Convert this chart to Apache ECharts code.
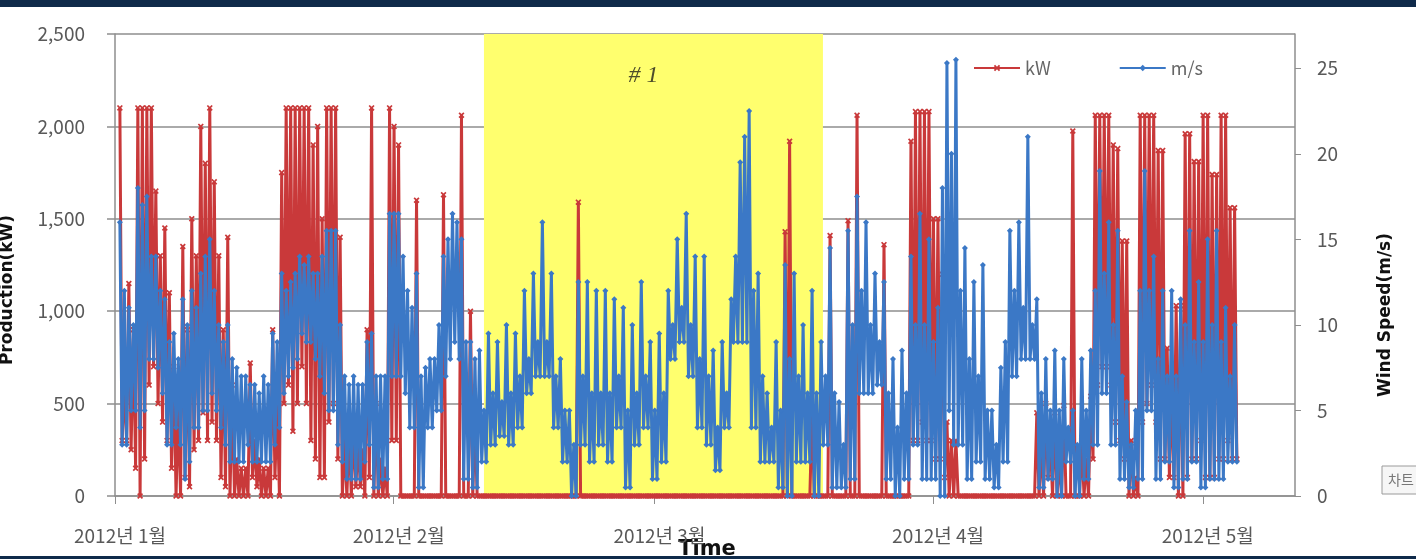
<!DOCTYPE html>
<html>
<head>
<meta charset="utf-8">
<script src="https://cdn.jsdelivr.net/npm/echarts@6/dist/echarts.min.js"></script>
<style>
  html, body { margin: 0; padding: 0; background: #fff; }
  #chart { width: 1416px; height: 559px; }
</style>
</head>
<body>
<div id="chart"></div>
<script>
// half-day slots from 1 Jan 2012 13:00; for each slot the top and the bottom of the band
const HOUR = 3600000
const DAY = 24 * HOUR
const startTime = Date.UTC(2012, 0, 1, 13)
const slotHours = 12

// Production (kW), left axis
const kwUpper = [
  2100, 600, 1150, 900, 2100, 2100, 2100, 2100, 1650, 1300,
  1450, 1100, 700, 500, 1350, 900, 1500, 1300, 2000, 1800,
  2100, 1700, 1300, 900, 1400, 600, 200, 150, 150, 720,
  300, 200, 150, 150, 900, 500, 1750, 2100, 2100, 2100,
  2100, 2100, 2100, 1900, 2000, 1500, 2100, 2100, 2100, 1400,
  300, 350, 400, 300, 250, 900, 2100, 500, 200, 150,
  2100, 2000, 1900, 0, 0, 0, 1600, 0, 0, 0,
  0, 0, 1630, 0, 0, 0, 2060, 0, 1000, 400,
  0, 0, 0, 0, 0, 0, 0, 0, 0, 0,
  0, 0, 0, 0, 0, 0, 0, 0, 0, 0,
  0, 0, 1590, 0, 0, 0, 0, 0, 0, 0,
  0, 0, 0, 0, 0, 0, 0, 0, 0, 0,
  0, 0, 0, 0, 0, 0, 0, 0, 0, 0,
  0, 0, 0, 0, 0, 0, 0, 0, 0, 0,
  0, 0, 0, 0, 0, 0, 0, 0, 1430, 1920,
  0, 0, 0, 0, 450, 0, 0, 0, 1410, 0,
  0, 0, 1490, 0, 2060, 0, 0, 0, 0, 0,
  1360, 0, 0, 0, 0, 0, 1920, 2080, 2080, 2080,
  2080, 1500, 1500, 1200, 400, 300, 300, 0, 0, 0,
  0, 0, 0, 0, 0, 0, 0, 0, 0, 0,
  0, 0, 0, 0, 450, 300, 500, 300, 450, 200,
  490, 0, 1975, 0, 300, 200, 540, 2060, 2060, 2060,
  2060, 1900, 1880, 1380, 1380, 300, 100, 2060, 2060, 2060,
  2060, 1870, 1870, 800, 600, 1030, 1030, 1960, 1960, 1810,
  1810, 2060, 2060, 1740, 1740, 2060, 2060, 1560, 1560
]
const kwLower = [
  300, 300, 250, 150, 0, 200, 600, 700, 500, 400,
  300, 150, 0, 0, 100, 50, 250, 300, 450, 300,
  400, 300, 100, 50, 0, 0, 0, 0, 0, 100,
  50, 0, 0, 0, 100, 0, 500, 600, 350, 500,
  700, 500, 300, 200, 100, 100, 400, 500, 200, 0,
  0, 0, 50, 50, 0, 100, 0, 0, 0, 0,
  300, 300, 0, 0, 0, 0, 0, 0, 0, 0,
  0, 0, 0, 0, 0, 0, 0, 0, 0, 0,
  0, 0, 0, 0, 0, 0, 0, 0, 0, 0,
  0, 0, 0, 0, 0, 0, 0, 0, 0, 0,
  0, 0, 0, 0, 0, 0, 0, 0, 0, 0,
  0, 0, 0, 0, 0, 0, 0, 0, 0, 0,
  0, 0, 0, 0, 0, 0, 0, 0, 0, 0,
  0, 0, 0, 0, 0, 0, 0, 0, 0, 0,
  0, 0, 0, 0, 0, 0, 0, 0, 0, 0,
  0, 0, 0, 0, 0, 0, 0, 0, 0, 0,
  0, 0, 0, 0, 0, 0, 0, 0, 0, 0,
  0, 0, 0, 0, 0, 0, 300, 300, 400, 300,
  300, 200, 200, 100, 0, 0, 0, 0, 0, 0,
  0, 0, 0, 0, 0, 0, 0, 0, 0, 0,
  0, 0, 0, 0, 0, 0, 100, 0, 0, 0,
  0, 0, 0, 0, 0, 0, 200, 600, 700, 700,
  600, 400, 300, 200, 0, 0, 0, 400, 500, 600,
  400, 200, 200, 100, 100, 0, 0, 100, 200, 200,
  300, 100, 100, 100, 200, 200, 300, 200, 200
]

// Wind speed (m/s), right axis
const windUpper = [
  16, 12, 11, 10, 18, 17, 17.5, 14, 14, 12,
  11.5, 9, 9.5, 8, 11.5, 10, 12, 11, 13, 14,
  15, 12, 10, 9, 10, 8, 7.5, 7, 7, 6.5,
  6.5, 6, 7, 6.5, 9.5, 9, 13, 12, 12.5, 13,
  14, 13.5, 14, 13, 13, 14, 15.5, 15.5, 15.5, 10,
  7, 6.5, 7, 6.5, 6.5, 9, 9.5, 7, 7, 7,
  16.5, 16.5, 16.5, 14, 12, 11, 13, 7, 7.5, 8,
  8, 10, 14, 15, 16.5, 16, 15, 9, 9, 8,
  8.5, 5, 9.5, 6, 9, 5.5, 10, 6, 9.5, 7,
  12, 8, 13, 9, 16, 9, 13, 7, 8, 5,
  5, 3, 12.5, 7, 12.5, 6, 12, 6, 12, 6,
  11.5, 7, 11, 5, 10, 6, 12.5, 7, 9, 5,
  9.5, 6, 12, 10, 15, 11, 16.5, 10, 14, 8,
  14, 7, 8.5, 4, 9, 6, 11.5, 14, 19.5, 21,
  22.5, 12, 13, 7, 6, 4, 9, 5, 13.5, 8,
  13, 7, 10, 6, 12, 6, 9, 7, 14.5, 6,
  5.5, 3, 15.5, 10, 17.5, 12, 16, 10, 13, 9,
  12.5, 6, 8, 4, 8.5, 6, 14, 10, 16.5, 10,
  15, 9, 11, 18, 25.3, 20, 25.5, 12, 14.5, 8,
  12.5, 7, 13.5, 5, 5, 3, 7.5, 9, 15.5, 12,
  16, 11, 21, 10, 11.5, 6, 8, 5, 8.5, 5,
  8, 4, 5, 3, 8, 5, 8.5, 12, 19, 13,
  16, 10, 15.5, 7, 5.5, 3, 5, 12, 19, 12,
  14, 8, 12, 7, 12, 7, 11.5, 10, 15.5, 9,
  12.5, 9, 15, 10, 15.5, 9, 11, 7, 10
]
const windLower = [
  3, 3, 5, 5, 4, 5, 8, 8, 7.5, 6,
  3, 3, 4, 3, 1, 2, 4, 4, 5, 5,
  6, 5, 4, 3, 2, 2, 2, 2, 3, 2,
  2, 2, 2, 2, 3, 4, 6, 7, 7.5, 8,
  9.5, 9, 9, 8, 7, 6, 5, 5, 3, 2,
  1, 1, 1, 1, 2, 3, 0.5, 0.5, 1, 1,
  7, 7, 7, 6, 4, 4, 0.5, 0.5, 4, 4,
  5, 5, 7, 8, 9, 8, 1, 1, 0.5, 0.5,
  2, 2, 3, 3, 3.5, 3.5, 3, 3, 4, 4,
  6, 6, 7, 7, 7, 7, 4, 4, 2, 2,
  0, 0, 3, 3, 2, 2, 3, 3, 2, 2,
  4, 4, 0.5, 0.5, 3, 3, 4, 4, 1, 1,
  2, 2, 8, 8, 9, 9, 7, 7, 4, 4,
  3, 3, 1.5, 1.5, 4, 4, 9, 9, 9, 9,
  4, 4, 2, 2, 2, 2, 0.5, 0.5, 0, 0,
  2, 2, 2, 2, 0, 0, 3, 3, 0.5, 0.5,
  0.5, 0.5, 1, 1, 6, 6, 6, 6, 6.5, 6.5,
  1, 1, 0, 0, 1, 1, 3, 3, 1, 1,
  1, 1, 0, 0, 5, 3, 3, 3, 1, 1,
  2, 2, 1, 1, 0.5, 0.5, 2, 2, 7, 7,
  8, 8, 8, 8, 0.5, 0.5, 1, 1, 0, 0,
  2, 2, 0, 0, 1, 1, 3, 3, 6, 6,
  3, 3, 1, 1, 0.5, 0.5, 1, 1, 5, 5,
  1, 1, 2, 2, 0.5, 0.5, 1, 1, 2, 2,
  0.5, 0.5, 1, 1, 1, 1, 2, 2, 2
]

const monthTicks = [Date.UTC(2012, 0, 1), Date.UTC(2012, 1, 1), Date.UTC(2012, 2, 1), Date.UTC(2012, 3, 1), Date.UTC(2012, 4, 1)]
const monthLabels = ['2012년 1월', '2012년 2월', '2012년 3월', '2012년 4월', '2012년 5월']
const kwTicks = [0, 500, 1000, 1500, 2000, 2500]
const windTicks = [0, 5, 10, 15, 20, 25]
const highlightWindow = [Date.UTC(2012, 1, 11, 1), Date.UTC(2012, 2, 19, 18)]
const highlightLabel = '# 1'

const xMin = Date.UTC(2012, 0, 1)
const xMax = xMin + 131.26 * DAY

const RED = '#c9393a'
const BLUE = '#3b78c6'
const GRID = '#8e8e8e'
const LABEL = '#595959'
const FONT = '"Noto Sans CJK KR", "Noto Sans", sans-serif'

// each slot: band top at its start, band bottom a quarter day later
const toPoints = (upper, lower) => upper.flatMap((u, k) => {
  let t = startTime + k * slotHours * HOUR
  return [[t, u], [t + slotHours / 2 * HOUR, lower[k]]]
})
const xMark = 'path://M0,2L2,0L5,3L8,0L10,2L7,5L10,8L8,10L5,7L2,10L0,8L3,5Z'

let chart = echarts.init(document.getElementById('chart'))

let option = {
  animation: false,
  backgroundColor: '#fff',
  grid: { left: 115, right: 121, top: 34, bottom: 63 },
  legend: {
    data: ['kW', 'm/s'],
    left: 968, top: 54,
    itemWidth: 46, itemHeight: 8, itemGap: 68,
    textStyle: { color: '#666', fontSize: 18, fontFamily: FONT }
  },
  xAxis: {
    type: 'value',
    min: xMin, max: xMax,
    splitLine: { show: false },
    axisLine: { show: true, lineStyle: { color: GRID, width: 1.5 } },
    axisTick: { show: true, customValues: monthTicks, length: 8, lineStyle: { color: GRID } },
    axisLabel: {
      customValues: monthTicks,
      margin: 30,
      padding: [0, 0, 0, 10],
      color: LABEL, fontSize: 19, fontFamily: FONT,
      formatter: v => {
        let i = monthTicks.findIndex(t => Math.abs(t - v) < HOUR)
        return i >= 0 ? monthLabels[i] : ''
      }
    }
  },
  yAxis: [{
    type: 'value', min: 0, max: 2500, interval: 500,
    axisLine: { show: true, lineStyle: { color: GRID, width: 1.5 } },
    axisTick: { show: true, inside: false, length: 8, lineStyle: { color: GRID, width: 1.5 } },
    splitLine: { show: true, lineStyle: { color: GRID, width: 1.5 } },
    axisLabel: {
      customValues: kwTicks,
      margin: 30, color: LABEL, fontSize: 19, fontFamily: FONT,
      formatter: v => v.toLocaleString('en-US')
    }
  }, {
    type: 'value', min: 0, max: 27,
    position: 'right',
    axisLine: { show: true, lineStyle: { color: GRID, width: 1.5 } },
    axisTick: { show: true, customValues: windTicks, length: 6, lineStyle: { color: GRID } },
    splitLine: { show: false },
    axisLabel: { customValues: windTicks, margin: 22, color: LABEL, fontSize: 19, fontFamily: FONT }
  }],
  graphic: [
    { type: 'rect', shape: { x: 0, y: 0, width: 1416, height: 7 }, style: { fill: '#0f2a4a' }, z: 100 },
    { type: 'rect', shape: { x: 0, y: 556, width: 1416, height: 3 }, style: { fill: '#0f2a4a' }, z: 100 },
    {
      type: 'text', x: 8, y: 290, rotation: Math.PI / 2,
      style: { text: 'Production(kW)', align: 'center', verticalAlign: 'middle', fill: '#111', font: 'bold 17px "DejaVu Sans", sans-serif' }
    },
    {
      type: 'text', x: 1386, y: 315, rotation: Math.PI / 2,
      style: { text: 'Wind Speed(m/s)', align: 'center', verticalAlign: 'middle', fill: '#111', font: 'bold 17px "DejaVu Sans", sans-serif' }
    },
    {
      type: 'text', x: 707, y: 539,
      style: { text: 'Time', align: 'center', verticalAlign: 'top', fill: '#111', font: 'bold 21px "DejaVu Sans", sans-serif' }
    },
    { type: 'rect', shape: { x: 1382, y: 466, width: 80, height: 28 }, style: { fill: '#f6f6f6', stroke: '#9a9a9a', lineWidth: 1 } },
    { type: 'text', x: 1388, y: 480, style: { text: '차트 영역', verticalAlign: 'middle', fill: '#777', font: '14px "Noto Sans CJK KR"' } }
  ],
  series: [{
    // yellow period #1, kept under the grid lines
    name: 'period', type: 'line', data: [], z: -1, silent: true,
    markArea: {
      silent: true,
      itemStyle: { color: '#ffff6e' },
      label: {
        show: true, position: 'insideTop', distance: 30, offset: [-10, 0],
        color: '#4d4d2a', fontSize: 24, fontFamily: '"Liberation Serif", serif', fontStyle: 'italic'
      },
      data: [[{ name: highlightLabel, xAxis: highlightWindow[0] }, { xAxis: highlightWindow[1] }]]
    }
  }, {
    name: 'kW', type: 'line', yAxisIndex: 0, z: 2,
    data: toPoints(kwUpper, kwLower),
    symbol: xMark, symbolSize: 6, showSymbol: true,
    lineStyle: { color: RED, width: 3 },
    itemStyle: { color: RED }
  }, {
    name: 'm/s', type: 'line', yAxisIndex: 1, z: 3,
    data: toPoints(windUpper, windLower),
    symbol: 'diamond', symbolSize: 6, showSymbol: true,
    lineStyle: { color: BLUE, width: 3 },
    itemStyle: { color: BLUE }
  }]
}

chart.setOption(option)
window.onresize = function () {
  chart.resize()
}
</script>
</body>
</html>
